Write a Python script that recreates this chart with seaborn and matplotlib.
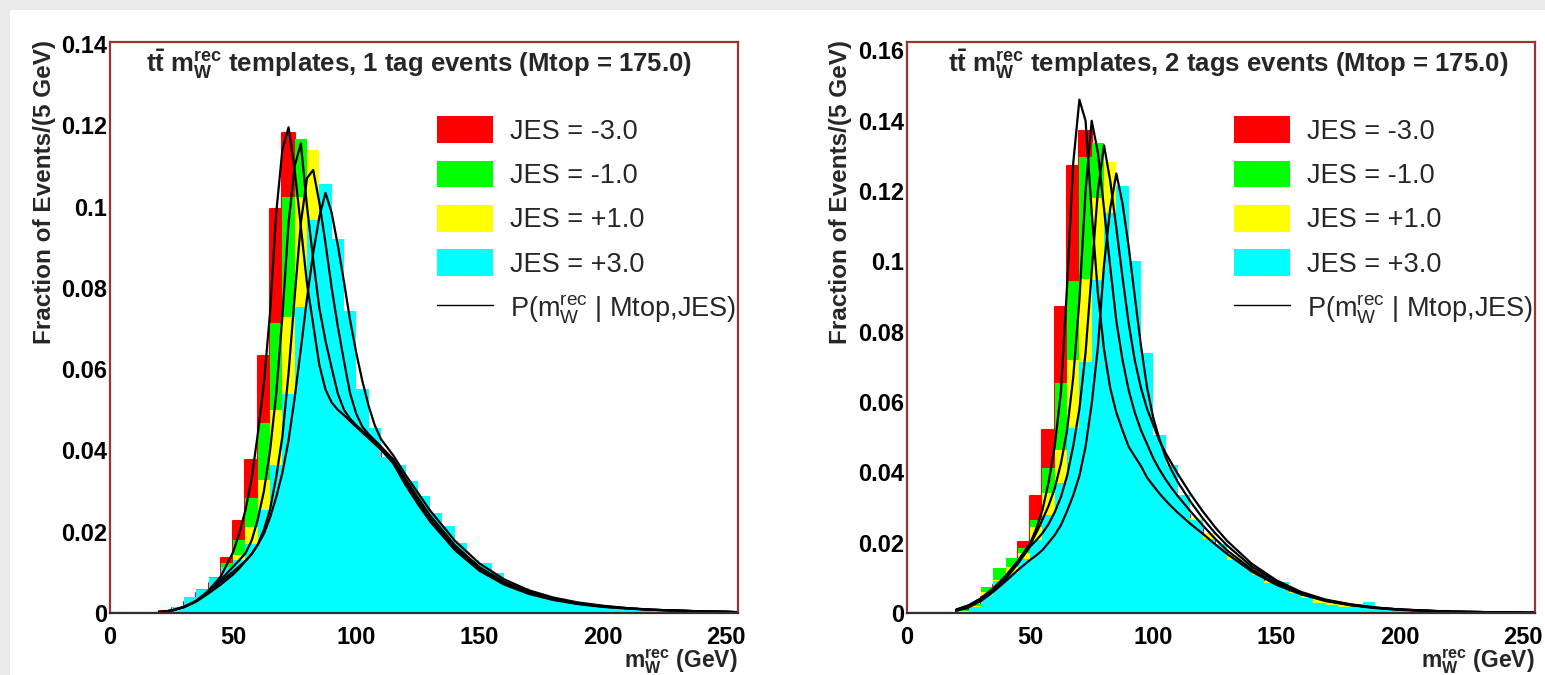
import matplotlib
matplotlib.use("Agg")
import matplotlib.pyplot as plt
import seaborn as sns
from matplotlib.patches import Patch, Rectangle
from matplotlib.lines import Line2D
from matplotlib.ticker import MultipleLocator, FuncFormatter

# ---------------- data ----------------
bin_edges = list(range(0, 260, 5))             # 0..255 GeV, 5 GeV bins
bin_centers = [e + 2.5 for e in bin_edges[:-1]]

jes_labels = ["JES = -3.0", "JES = -1.0", "JES = +1.0", "JES = +3.0"]
jes_colors = ["#ff0000", "#00ff00", "#ffff00", "#00ffff"]

# 1 tag events
h1_m3 = [0, 0, 0, 0, 0.0004, 0.0012, 0.0028, 0.0048, 0.0075, 0.0135,
         0.0227, 0.0376, 0.0632, 0.0993, 0.1180, 0.1080, 0.0800, 0.0600, 0.0510, 0.0470,
         0.0430, 0.0400, 0.0360, 0.0320, 0.0280, 0.0240, 0.0200, 0.0170, 0.0140, 0.0112,
         0.0092, 0.0075, 0.0060, 0.0049, 0.0040, 0.0033, 0.0027, 0.0022, 0.0018, 0.0015,
         0.0012, 0.0010, 0.0008, 0.0007, 0.0006, 0.0005, 0.0004, 0.0003, 0.0003, 0.0002,
         0.0002]
h1_m1 = [0, 0, 0, 0, 0.0005, 0.0015, 0.0035, 0.0060, 0.0089, 0.0122,
         0.0180, 0.0282, 0.0467, 0.0713, 0.1024, 0.1166, 0.0990, 0.0740, 0.0600, 0.0520,
         0.0460, 0.0420, 0.0375, 0.0330, 0.0290, 0.0250, 0.0210, 0.0178, 0.0146, 0.0118,
         0.0096, 0.0078, 0.0063, 0.0051, 0.0042, 0.0034, 0.0028, 0.0023, 0.0019, 0.0015,
         0.0012, 0.0010, 0.0008, 0.0007, 0.0006, 0.0005, 0.0004, 0.0003, 0.0003, 0.0002,
         0.0002]
h1_p1 = [0, 0, 0, 0, 0.0004, 0.0014, 0.0032, 0.0055, 0.0082, 0.0108,
         0.0143, 0.0212, 0.0327, 0.0500, 0.0729, 0.1024, 0.1139, 0.0950, 0.0740, 0.0590,
         0.0490, 0.0435, 0.0385, 0.0342, 0.0300, 0.0262, 0.0222, 0.0188, 0.0155, 0.0124,
         0.0102, 0.0083, 0.0066, 0.0054, 0.0044, 0.0036, 0.0029, 0.0024, 0.0019, 0.0016,
         0.0013, 0.0011, 0.0009, 0.0007, 0.0006, 0.0005, 0.0004, 0.0003, 0.0003, 0.0002,
         0.0002]
h1_p3 = [0, 0, 0, 0, 0.0005, 0.0015, 0.0040, 0.0057, 0.0085, 0.0114,
         0.0130, 0.0171, 0.0253, 0.0364, 0.0540, 0.0754, 0.0967, 0.1056, 0.0920, 0.0742,
         0.0550, 0.0455, 0.0385, 0.0365, 0.0324, 0.0287, 0.0246, 0.0213, 0.0172, 0.0131,
         0.0123, 0.0098, 0.0074, 0.0062, 0.0049, 0.0041, 0.0033, 0.0025, 0.0020, 0.0016,
         0.0012, 0.0012, 0.0008, 0.0008, 0.0008, 0.0005, 0.0004, 0.0004, 0.0003, 0.0003,
         0.0002]

# 2 tags events
h2_m3 = [0, 0, 0, 0, 0.0008, 0.0020, 0.0045, 0.0080, 0.0120, 0.0203,
         0.0333, 0.0520, 0.0869, 0.1272, 0.1370, 0.1180, 0.0850, 0.0630, 0.0510, 0.0430,
         0.0370, 0.0320, 0.0280, 0.0240, 0.0205, 0.0175, 0.0148, 0.0125, 0.0102, 0.0083,
         0.0068, 0.0055, 0.0045, 0.0036, 0.0029, 0.0023, 0.0019, 0.0015, 0.0012, 0.0010,
         0.0008, 0.0007, 0.0006, 0.0005, 0.0004, 0.0003, 0.0003, 0.0002, 0.0002, 0.0002,
         0.0001]
h2_m1 = [0, 0, 0, 0, 0.0008, 0.0025, 0.0075, 0.0127, 0.0156, 0.0185,
         0.0265, 0.0412, 0.0653, 0.0943, 0.1298, 0.1336, 0.1180, 0.0850, 0.0650, 0.0520,
         0.0430, 0.0360, 0.0305, 0.0260, 0.0220, 0.0185, 0.0155, 0.0130, 0.0106, 0.0086,
         0.0070, 0.0057, 0.0046, 0.0037, 0.0030, 0.0024, 0.0019, 0.0015, 0.0012, 0.0010,
         0.0008, 0.0007, 0.0006, 0.0005, 0.0004, 0.0003, 0.0003, 0.0002, 0.0002, 0.0002,
         0.0001]
h2_p1 = [0, 0, 0, 0, 0.0005, 0.0020, 0.0060, 0.0095, 0.0130, 0.0170,
         0.0246, 0.0340, 0.0464, 0.0720, 0.0950, 0.1180, 0.1284, 0.1080, 0.0820, 0.0620,
         0.0480, 0.0385, 0.0320, 0.0270, 0.0228, 0.0192, 0.0165, 0.0135, 0.0115, 0.0090,
         0.0075, 0.0060, 0.0048, 0.0039, 0.0031, 0.0025, 0.0020, 0.0016, 0.0013, 0.0010,
         0.0008, 0.0007, 0.0006, 0.0005, 0.0004, 0.0003, 0.0003, 0.0002, 0.0002, 0.0002,
         0.0001]
h2_p3 = [0, 0, 0, 0, 0.0003, 0.0018, 0.0050, 0.0090, 0.0115, 0.0155,
         0.0208, 0.0280, 0.0370, 0.0525, 0.0715, 0.0947, 0.1137, 0.1215, 0.1000, 0.0740,
         0.0505, 0.0420, 0.0335, 0.0265, 0.0210, 0.0195, 0.0151, 0.0141, 0.0108, 0.0084,
         0.0089, 0.0056, 0.0042, 0.0029, 0.0023, 0.0018, 0.0016, 0.0030, 0.0012, 0.0010,
         0.0007, 0.0006, 0.0005, 0.0004, 0.0004, 0.0003, 0.0003, 0.0002, 0.0002, 0.0001,
         0.0001]

curve_x = [20, 25, 30, 35, 40, 45, 50, 52.5, 55, 57.5,
           60, 62.5, 65, 67.5, 70, 72.5, 75, 77.5, 80, 82.5,
           85, 87.5, 90, 92.5, 95, 97.5, 100, 102.5, 105, 107.5,
           110, 115, 120, 125, 130, 140, 150, 160, 170, 180,
           190, 200, 210, 220, 230, 240, 250, 255]

c1_m3 = [0.0002, 0.0006, 0.0015, 0.0030, 0.0055, 0.0090, 0.0150, 0.0196, 0.0253, 0.0330,
         0.0440, 0.0565, 0.0740, 0.0985, 0.1140, 0.1195, 0.1090, 0.0950, 0.0810, 0.0710,
         0.0610, 0.0550, 0.0518, 0.0500, 0.0487, 0.0472, 0.0458, 0.0444, 0.0430, 0.0416,
         0.0402, 0.0368, 0.0315, 0.0268, 0.0225, 0.0155, 0.0104, 0.0070, 0.0047, 0.0032,
         0.0022, 0.0015, 0.0011, 0.0008, 0.0006, 0.0004, 0.0003, 0.0002]
c1_m1 = [0.0002, 0.0006, 0.0015, 0.0030, 0.0052, 0.0082, 0.0114, 0.0130, 0.0147, 0.0178,
         0.0230, 0.0300, 0.0400, 0.0540, 0.0730, 0.0960, 0.1100, 0.1155, 0.1000, 0.0870,
         0.0750, 0.0670, 0.0603, 0.0540, 0.0500, 0.0478, 0.0462, 0.0448, 0.0435, 0.0421,
         0.0407, 0.0372, 0.0322, 0.0275, 0.0232, 0.0160, 0.0108, 0.0073, 0.0049, 0.0033,
         0.0023, 0.0016, 0.0011, 0.0008, 0.0006, 0.0004, 0.0003, 0.0002]
c1_p1 = [0.0002, 0.0006, 0.0015, 0.0029, 0.0050, 0.0077, 0.0102, 0.0115, 0.0128, 0.0145,
         0.0168, 0.0205, 0.0255, 0.0335, 0.0434, 0.0590, 0.0780, 0.0960, 0.1070, 0.1090,
         0.1010, 0.0910, 0.0800, 0.0705, 0.0620, 0.0540, 0.0490, 0.0458, 0.0440, 0.0425,
         0.0410, 0.0378, 0.0330, 0.0284, 0.0240, 0.0167, 0.0113, 0.0077, 0.0052, 0.0035,
         0.0024, 0.0017, 0.0012, 0.0008, 0.0006, 0.0004, 0.0003, 0.0002]
c1_p3 = [0.0002, 0.0006, 0.0014, 0.0028, 0.0048, 0.0070, 0.0095, 0.0110, 0.0128, 0.0145,
         0.0168, 0.0195, 0.0235, 0.0285, 0.0345, 0.0425, 0.0530, 0.0650, 0.0775, 0.0885,
         0.0975, 0.1034, 0.0985, 0.0905, 0.0815, 0.0720, 0.0640, 0.0570, 0.0510, 0.0462,
         0.0428, 0.0388, 0.0340, 0.0296, 0.0252, 0.0178, 0.0122, 0.0083, 0.0056, 0.0038,
         0.0026, 0.0018, 0.0012, 0.0008, 0.0006, 0.0004, 0.0003, 0.0002]

c2_m3 = [0.0010, 0.0022, 0.0042, 0.0070, 0.0105, 0.0148, 0.0198, 0.0240, 0.0293, 0.0372,
         0.0475, 0.0630, 0.0930, 0.1280, 0.1460, 0.1400, 0.1140, 0.0910, 0.0750, 0.0640,
         0.0570, 0.0520, 0.0473, 0.0445, 0.0418, 0.0385, 0.0362, 0.0340, 0.0320, 0.0302,
         0.0285, 0.0254, 0.0226, 0.0196, 0.0168, 0.0118, 0.0080, 0.0053, 0.0034, 0.0022,
         0.0014, 0.0009, 0.0006, 0.0004, 0.0003, 0.0002, 0.0001, 0.0001]
c2_m1 = [0.0009, 0.0021, 0.0040, 0.0068, 0.0102, 0.0145, 0.0195, 0.0228, 0.0265, 0.0305,
         0.0355, 0.0425, 0.0520, 0.0670, 0.0890, 0.1200, 0.1400, 0.1310, 0.1150, 0.0985,
         0.0830, 0.0720, 0.0634, 0.0570, 0.0520, 0.0480, 0.0440, 0.0408, 0.0380, 0.0355,
         0.0332, 0.0290, 0.0250, 0.0212, 0.0178, 0.0124, 0.0083, 0.0055, 0.0035, 0.0023,
         0.0015, 0.0010, 0.0007, 0.0004, 0.0003, 0.0002, 0.0001, 0.0001]
c2_p1 = [0.0008, 0.0019, 0.0037, 0.0064, 0.0097, 0.0140, 0.0189, 0.0207, 0.0227, 0.0253,
         0.0287, 0.0330, 0.0390, 0.0475, 0.0580, 0.0740, 0.0970, 0.1200, 0.1330, 0.1230,
         0.1095, 0.0955, 0.0824, 0.0718, 0.0640, 0.0580, 0.0535, 0.0490, 0.0455, 0.0425,
         0.0395, 0.0340, 0.0290, 0.0245, 0.0205, 0.0140, 0.0093, 0.0060, 0.0038, 0.0025,
         0.0016, 0.0010, 0.0007, 0.0004, 0.0003, 0.0002, 0.0001, 0.0001]
c2_p3 = [0.0006, 0.0016, 0.0034, 0.0060, 0.0090, 0.0122, 0.0151, 0.0164, 0.0179, 0.0200,
         0.0222, 0.0250, 0.0290, 0.0335, 0.0390, 0.0473, 0.0595, 0.0755, 0.0990, 0.1150,
         0.1250, 0.1165, 0.1042, 0.0900, 0.0760, 0.0640, 0.0555, 0.0495, 0.0443, 0.0405,
         0.0372, 0.0318, 0.0270, 0.0228, 0.0192, 0.0132, 0.0089, 0.0058, 0.0037, 0.0024,
         0.0015, 0.0010, 0.0007, 0.0004, 0.0003, 0.0002, 0.0001, 0.0001]

titles = [r"$\mathbf{t\bar{t}}$ $\mathbf{m_{W}^{rec}}$ templates, 1 tag events (Mtop = 175.0)",
          r"$\mathbf{t\bar{t}}$ $\mathbf{m_{W}^{rec}}$ templates, 2 tags events (Mtop = 175.0)"]
y_label = "Fraction of Events/(5 GeV)"
x_label = r"$\mathbf{m_{W}^{rec}}$ (GeV)"
curve_label = r"P($\mathrm{m_{W}^{rec}}$ | Mtop,JES)"

# ---------------- style ----------------
sns.set_style("white")
plt.rcParams["font.family"] = ["Liberation Sans", "DejaVu Sans"]
plt.rcParams["font.weight"] = "bold"
plt.rcParams["mathtext.fontset"] = "custom"
plt.rcParams["mathtext.rm"] = "Liberation Sans:normal"
plt.rcParams["mathtext.bf"] = "Liberation Sans:bold"
plt.rcParams["mathtext.it"] = "Liberation Sans:italic"
plt.rcParams["mathtext.sf"] = "Liberation Sans:normal"

W, H = 1545, 675
fig = plt.figure(figsize=(W / 100, H / 100), dpi=100, facecolor="#ebebeb")
fig.patches.append(Rectangle((10 / W, 0), 1 - 10 / W, 1 - 10 / H, transform=fig.transFigure,
                             facecolor="white", edgecolor="none", zorder=-5))

axL = fig.add_axes([110 / W, 62 / H, 628 / W, 571 / H])
axR = fig.add_axes([907 / W, 62 / H, 628 / W, 571 / H])

panels = [
    (axL, [h1_m3, h1_m1, h1_p1, h1_p3], [c1_m3, c1_m1, c1_p1, c1_p3], 0.1405, titles[0], 146, 45),
    (axR, [h2_m3, h2_m1, h2_p1, h2_p3], [c2_m3, c2_m1, c2_p1, c2_p3], 0.1624, titles[1], 948, 840),
]

frame_col = "#9a3434"

for ax, hists, curves, ymax, title, tx, ylx in panels:
    ax.set_facecolor("white")
    for i, (vals, col) in enumerate(zip(hists, jes_colors)):
        sns.histplot(x=bin_centers, weights=vals, bins=bin_edges, element="step", fill=True,
                     color=col, alpha=1, linewidth=1.5 if i == 0 else 0,
                     edgecolor=col, ax=ax)
    for cv in curves:
        sns.lineplot(x=curve_x, y=cv, color="black", linewidth=1.6, estimator=None,
                     sort=False, ax=ax, legend=False)
    ax.set_xlim(0, 255)
    ax.set_ylim(0, ymax)
    ax.set_xlabel("")
    ax.set_ylabel("")
    ax.xaxis.set_major_locator(MultipleLocator(50))
    ax.xaxis.set_minor_locator(MultipleLocator(10))
    ax.yaxis.set_major_locator(MultipleLocator(0.02))
    ax.yaxis.set_minor_locator(MultipleLocator(0.005))
    ax.yaxis.set_major_formatter(FuncFormatter(lambda v, p: f"{v:g}"))
    ax.xaxis.set_major_formatter(FuncFormatter(lambda v, p: f"{v:g}"))
    ax.tick_params(which="major", direction="in", length=12, width=1.3, colors="black",
                   labelsize=17, top=False, right=False)
    ax.tick_params(which="minor", direction="in", length=6, width=1.3, colors="black",
                   top=False, right=False)
    ax.tick_params(axis="x", which="major", pad=9)
    ax.tick_params(axis="y", which="major", pad=2)
    for side in ["top", "right", "left"]:
        ax.spines[side].set_color(frame_col)
        ax.spines[side].set_linewidth(1.6)
    ax.spines["bottom"].set_color("#303030")
    ax.spines["bottom"].set_linewidth(1.6)

    handles = [Patch(facecolor=c, edgecolor="none") for c in jes_colors] + \
              [Line2D([], [], color="black", linewidth=1)]
    ax.legend(handles, jes_labels + [curve_label], loc="upper left",
              bbox_to_anchor=(0.521, 0.870), frameon=False,
              prop={"size": 19.5, "weight": "normal"}, handlelength=2.05, handleheight=1.15,
              handletextpad=0.65, labelspacing=0.58, borderaxespad=0, borderpad=0)

    fig.text(tx / W, 1 - 72 / H, title, fontsize=18.5, fontweight="bold", ha="left", va="baseline")
    fig.text(ylx / W, 1 - 40 / H, y_label, rotation=90, fontsize=17.5, fontweight="bold",
             ha="center", va="top")
    x_right = (ax.get_position().x1)
    fig.text(x_right, 1 - 668 / H, x_label, fontsize=16.5, fontweight="bold", ha="right",
             va="baseline")

fig.savefig("out.png", dpi=100, facecolor=fig.get_facecolor())
